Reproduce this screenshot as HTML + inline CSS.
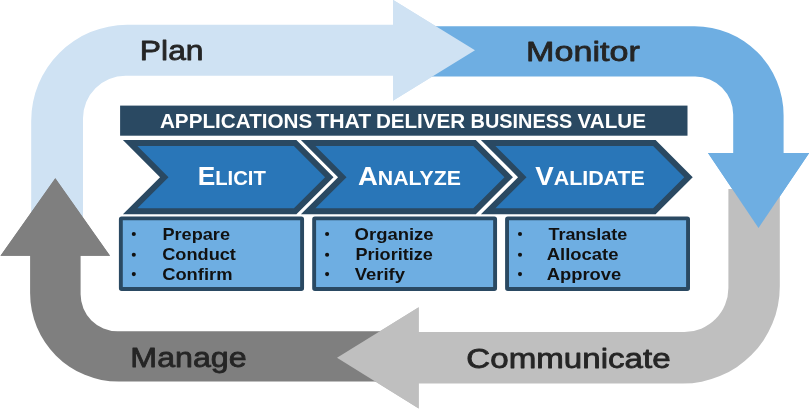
<!DOCTYPE html>
<html><head><meta charset="utf-8"><style>
html,body{margin:0;padding:0;background:#fff;}
svg{display:block;font-family:"Liberation Sans",sans-serif;will-change:transform;}
</style></head><body>
<svg width="809" height="409" viewBox="0 0 809 409">
<path d="M31.2,217 L31.2,120.8 A96,96 0 0 1 127.2,24.8 L393,24.8 L393,-0.2 L475,50.3 L393,100.8 L393,75.8 L125.5,75.8 A42.5,42.5 0 0 0 83,118.3 L83,217 Z" fill="#cfe2f3"/>
<path d="M420,26.3 L694.6,26.3 A89,89 0 0 1 783.6,115.3 L783.6,153 L809.2,153 L758.5,228 L708,153 L733.2,153 L733.2,114.6 A38,38 0 0 0 695.2,76.6 L420,76.6 Z" fill="#6eaee2"/>
<path d="M728.4,189 L779.8,189 L779.8,286.5 A97,97 0 0 1 682.8,383.5 L418.7,383.5 L418.7,408.6 L337,357.8 L418.7,307.2 L418.7,332 L684.4,332 A44,44 0 0 0 728.4,288 Z" fill="#bfbfbf"/>
<path d="M400,331.3 L117.6,331.3 A37,37 0 0 1 80.6,294.3 L80.6,255.7 L110,255.7 L55.3,178.2 L0.5,255.7 L30.1,255.7 L30.1,293.1 A88.5,88.5 0 0 0 118.6,381.6 L400,381.6 Z" fill="#7f7f7f"/>
<path d="M393,-0.2 L475,50.3 L393,100.8 Z" fill="#cfe2f3"/>
<path d="M708,153 L809.2,153 L758.5,228 Z" fill="#6eaee2"/>
<path d="M418.7,307.2 L337,357.8 L418.7,408.6 Z" fill="#bfbfbf"/>
<path d="M0.5,255.7 L55.3,178.2 L110,255.7 Z" fill="#7f7f7f"/>
<text id="t_Plan" x="139.88" y="60" font-size="28.4" font-weight="normal" fill="#252525" stroke="#252525" stroke-width="0.8" stroke-linejoin="round" textLength="63.65" lengthAdjust="spacingAndGlyphs">Plan</text>
<text id="t_Monitor" x="526.02" y="61.3" font-size="28.4" font-weight="normal" fill="#252525" stroke="#252525" stroke-width="0.8" stroke-linejoin="round" textLength="113.84" lengthAdjust="spacingAndGlyphs">Monitor</text>
<text id="t_Manage" x="130.36" y="367" font-size="28.4" font-weight="normal" fill="#252525" stroke="#252525" stroke-width="0.8" stroke-linejoin="round" textLength="116.27" lengthAdjust="spacingAndGlyphs">Manage</text>
<text id="t_Communicate" x="466.39" y="368.4" font-size="28.4" font-weight="normal" fill="#252525" stroke="#252525" stroke-width="0.8" stroke-linejoin="round" textLength="204.28" lengthAdjust="spacingAndGlyphs">Communicate</text>
<rect x="120.1" y="105.6" width="567.4" height="30.1" fill="#2a4962"/>
<text id="t_B1" x="159.94" y="127.9" font-size="20.7" font-weight="bold" fill="#ffffff" textLength="152.38" lengthAdjust="spacingAndGlyphs">APPLICATIONS</text>
<text id="t_B2" x="316.18" y="127.9" font-size="20.7" font-weight="bold" fill="#ffffff" textLength="55.08" lengthAdjust="spacingAndGlyphs">THAT</text>
<text id="t_B3" x="375.88" y="127.9" font-size="20.7" font-weight="bold" fill="#ffffff" textLength="89.37" lengthAdjust="spacingAndGlyphs">DELIVER</text>
<text id="t_B4" x="470.54" y="127.9" font-size="20.7" font-weight="bold" fill="#ffffff" textLength="101.72" lengthAdjust="spacingAndGlyphs">BUSINESS</text>
<text id="t_B5" x="577.55" y="127.9" font-size="20.7" font-weight="bold" fill="#ffffff" textLength="68.37" lengthAdjust="spacingAndGlyphs">VALUE</text>
<polygon points="122.9,140 296.4,140 333.55,177.15 296.4,214.3 122.9,214.3 160.05,177.15" fill="#2a4962"/><polygon points="137.39,146 293.91,146 325.06,177.15 293.91,208.3 137.39,208.3 168.54,177.15" fill="#2976b8"/>
<polygon points="300.9,140 475.8,140 512.95,177.15 475.8,214.3 300.9,214.3 338.05,177.15" fill="#2a4962"/><polygon points="315.39,146 473.31,146 504.46,177.15 473.31,208.3 315.39,208.3 346.54,177.15" fill="#2976b8"/>
<polygon points="480.9,140 655.6,140 692.75,177.15 655.6,214.3 480.9,214.3 518.05,177.15" fill="#2a4962"/><polygon points="495.39,146 653.11,146 684.26,177.15 653.11,208.3 495.39,208.3 526.54,177.15" fill="#2976b8"/>
<text id="t_Elicit" x="197.64" y="185" font-weight="bold" fill="#ffffff" textLength="68.17" lengthAdjust="spacingAndGlyphs"><tspan font-size="26.4">E</tspan><tspan font-size="20.4">LICIT</tspan></text>
<text id="t_Analyze" x="357.98" y="185" font-weight="bold" fill="#ffffff" textLength="103.02" lengthAdjust="spacingAndGlyphs"><tspan font-size="26.4">A</tspan><tspan font-size="20.4">NALYZE</tspan></text>
<text id="t_Validate" x="535.21" y="185" font-weight="bold" fill="#ffffff" textLength="109.62" lengthAdjust="spacingAndGlyphs"><tspan font-size="26.4">V</tspan><tspan font-size="20.4">ALIDATE</tspan></text>
<rect x="120.85" y="218.35" width="181.25" height="70.7" rx="0.8" fill="#6eaee2" stroke="#2a4962" stroke-width="3.9"/>
<circle cx="133.8" cy="234" r="2.05" fill="#111"/>
<circle cx="133.8" cy="254.8" r="2.05" fill="#111"/>
<circle cx="133.8" cy="274.1" r="2.05" fill="#111"/>
<text id="t_Prepare" x="162.48" y="239.6" font-size="15.9" font-weight="bold" fill="#111111" textLength="67.49" lengthAdjust="spacingAndGlyphs">Prepare</text>
<text id="t_Conduct" x="162.19" y="260.4" font-size="15.9" font-weight="bold" fill="#111111" textLength="73.73" lengthAdjust="spacingAndGlyphs">Conduct</text>
<text id="t_Confirm" x="162.17" y="279.7" font-size="15.9" font-weight="bold" fill="#111111" textLength="70.31" lengthAdjust="spacingAndGlyphs">Confirm</text>
<rect x="314.15" y="218.35" width="180.95" height="70.7" rx="0.8" fill="#6eaee2" stroke="#2a4962" stroke-width="3.9"/>
<circle cx="327.1" cy="234" r="2.05" fill="#111"/>
<circle cx="327.1" cy="254.8" r="2.05" fill="#111"/>
<circle cx="327.1" cy="274.1" r="2.05" fill="#111"/>
<text id="t_Organize" x="354.59" y="239.6" font-size="15.9" font-weight="bold" fill="#111111" textLength="79.07" lengthAdjust="spacingAndGlyphs">Organize</text>
<text id="t_Prioritize" x="355.49" y="260.4" font-size="15.9" font-weight="bold" fill="#111111" textLength="77.38" lengthAdjust="spacingAndGlyphs">Prioritize</text>
<text id="t_Verify" x="354.68" y="279.7" font-size="15.9" font-weight="bold" fill="#111111" textLength="50.26" lengthAdjust="spacingAndGlyphs">Verify</text>
<rect x="507.05" y="218.35" width="181" height="70.7" rx="0.8" fill="#6eaee2" stroke="#2a4962" stroke-width="3.9"/>
<circle cx="520" cy="234" r="2.05" fill="#111"/>
<circle cx="520" cy="254.8" r="2.05" fill="#111"/>
<circle cx="520" cy="274.1" r="2.05" fill="#111"/>
<text id="t_Translate" x="548.42" y="239.6" font-size="15.9" font-weight="bold" fill="#111111" textLength="78.88" lengthAdjust="spacingAndGlyphs">Translate</text>
<text id="t_Allocate" x="546.8" y="260.4" font-size="15.9" font-weight="bold" fill="#111111" textLength="71.69" lengthAdjust="spacingAndGlyphs">Allocate</text>
<text id="t_Approve" x="546.81" y="279.7" font-size="15.9" font-weight="bold" fill="#111111" textLength="74.48" lengthAdjust="spacingAndGlyphs">Approve</text>
</svg>
</body></html>
